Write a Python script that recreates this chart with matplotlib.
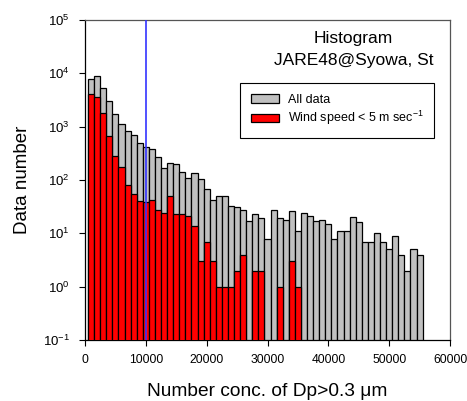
import matplotlib
matplotlib.use("Agg")
import matplotlib.pyplot as plt
import numpy as np

plt.rcParams['font.family'] = ['Liberation Sans', 'DejaVu Sans']
plt.rcParams['mathtext.fontset'] = 'custom'
plt.rcParams['mathtext.rm'] = 'Liberation Sans'
plt.rcParams['mathtext.it'] = 'Liberation Sans:italic'
plt.rcParams['mathtext.bf'] = 'Liberation Sans:bold'

bin_centers = [1000 * k for k in range(1, 56)]
all_data = [7700, 8900, 5400, 3000, 1700, 1140, 830, 700, 490, 415,
            376, 266, 168, 205, 196, 139, 110, 137, 106, 67,
            42, 51, 50, 32, 31, 27, 17, 23, 19, 8,
            27, 19, 18, 26, 11, 24, 21, 17, 18, 15,
            8, 11, 11, 20, 16, 7, 7, 10, 7, 5,
            9, 4, 2, 5, 4]
low_wind = [4100, 3550, 1780, 670, 276, 173, 81, 54, 41, 39,
            42, 27, 24, 51, 23, 23, 21, 14, 3, 7,
            3, 1, 1, 1, 2, 4, 0, 2, 2, 0,
            0, 1, 0, 3, 1, 0, 0, 0, 0, 0,
            0, 0, 0, 0, 0, 0, 0, 0, 0, 0,
            0, 0, 0, 0, 0]
x_ticks = [0, 10000, 20000, 30000, 40000, 50000, 60000]
y_ticks = [0.1, 1, 10, 100, 1000, 10000, 100000]
y_tick_labels = [r'$10^{-1}$', r'$10^{0}$', r'$10^{1}$', r'$10^{2}$', r'$10^{3}$', r'$10^{4}$', r'$10^{5}$']
threshold = 10000

fig = plt.figure(figsize=(4.67, 4.01), dpi=100)
ax = fig.add_axes([85 / 467, 61 / 401, 365 / 467, 320 / 401])

ax.bar(bin_centers, all_data, width=1000, color='#c0c0c0', edgecolor='black',
       linewidth=0.9, label='All data', zorder=2)
rc = [c for c, v in zip(bin_centers, low_wind) if v > 0]
rv = [v for v in low_wind if v > 0]
ax.bar(rc, rv, width=1000, color='#ff0000', edgecolor='black',
       linewidth=0.9, label='Wind speed < 5 m sec$^{-1}$', zorder=3)
ax.axvline(threshold, color='#3333ff', linewidth=1.2, zorder=4)

ax.set_yscale('log')
ax.set_ylim(0.1, 1e5)
ax.set_xlim(0, 60000)
ax.set_yticks(y_ticks)
ax.set_yticklabels(y_tick_labels)
ax.set_xticks(x_ticks)
ax.set_xticklabels([str(t) for t in x_ticks])
ax.minorticks_off()
ax.tick_params(axis='both', direction='out', length=4, width=0.8)
ax.tick_params(axis='y', pad=7, labelsize=9.5)
ax.tick_params(axis='x', pad=6, labelsize=8.7)

for s in ['top', 'right']:
    ax.spines[s].set_color('#555555')
for s in ax.spines.values():
    s.set_linewidth(0.9)

xl = ax.set_xlabel('Number conc. of Dp>0.3 μm', fontsize=13.8)
xl.set_va('baseline')
ax.xaxis.set_label_coords(0.5, (5 - 61) / 320)
ax.set_ylabel('Data number', fontsize=13.5)
ax.yaxis.set_label_coords((31 - 85) / 365, 0.5)

ax.text(0.7356, 0.927, 'Histogram', transform=ax.transAxes,
        ha='center', va='baseline', fontsize=12.5)
ax.text(0.7356, 0.858, 'JARE48@Syowa, St', transform=ax.transAxes,
        ha='center', va='baseline', fontsize=12.5)

leg = ax.legend(loc='upper right', bbox_to_anchor=(0.956, 0.802), fontsize=9,
                frameon=True, fancybox=False, edgecolor='black', framealpha=1,
                handlelength=2.3, handleheight=0.7, borderpad=0.85, labelspacing=0.25,
                handletextpad=0.65, borderaxespad=0)
leg.get_frame().set_linewidth(0.8)

fig.savefig('out.png', dpi=100)
